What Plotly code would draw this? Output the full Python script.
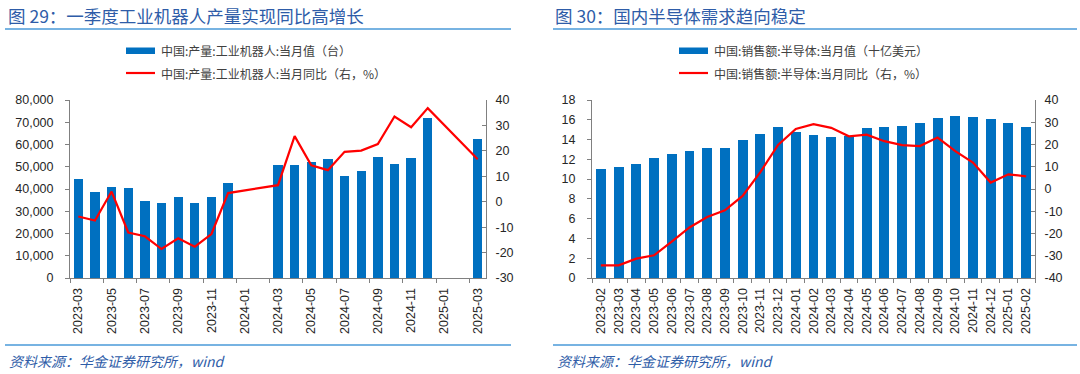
import plotly.graph_objects as go

# ---------------- data ----------------
robot_months = ["2023-03", "2023-04", "2023-05", "2023-06", "2023-07", "2023-08", "2023-09",
                "2023-10", "2023-11", "2023-12", "2024-01", "2024-02", "2024-03", "2024-04",
                "2024-05", "2024-06", "2024-07", "2024-08", "2024-09", "2024-10", "2024-11",
                "2024-12", "2025-01", "2025-02", "2025-03"]
robot_output = [44400, 38600, 40700, 40400, 34800, 33600, 36600, 33500, 36600, 42500,
                None, None, 51000, 50700, 52000, 53500, 45900, 48300, 54500, 51300, 54100,
                72000, None, None, 62300]
robot_yoy = [-5.8, -7.4, 4.0, -12.1, -13.6, -18.6, -14.4, -17.7, -12.7, 3.4,
             None, None, 6.5, 25.8, 14.3, 12.4, 19.6, 20.1, 22.7, 33.5, 29.3,
             36.8, None, None, 16.7]

semi_months = ["2023-02", "2023-03", "2023-04", "2023-05", "2023-06", "2023-07", "2023-08",
               "2023-09", "2023-10", "2023-11", "2023-12", "2024-01", "2024-02", "2024-03",
               "2024-04", "2024-05", "2024-06", "2024-07", "2024-08", "2024-09", "2024-10",
               "2024-11", "2024-12", "2025-01", "2025-02"]
semi_sales = [11.07, 11.2, 11.57, 12.15, 12.55, 12.85, 13.12, 13.19, 14.0, 14.6, 15.3,
              14.77, 14.43, 14.3, 14.4, 15.14, 15.28, 15.38, 15.65, 16.22, 16.39, 16.32,
              16.08, 15.71, 15.24]
semi_yoy = [-34.3, -34.3, -31.3, -29.8, -23.6, -17.3, -12.6, -9.6, -3.1, 7.6, 19.8,
            27.0, 29.1, 27.5, 23.7, 24.4, 21.5, 19.7, 19.3, 23.1, 17.0, 11.9, 2.9, 6.6, 5.7]

# right-axis tick values (labels use a plain hyphen as in the source)
robot_yoy_ticks = [-30, -20, -10, 0, 10, 20, 30, 40]
semi_yoy_ticks = [-40, -30, -20, -10, 0, 10, 20, 30, 40]

title_left = "图 29：一季度工业机器人产量实现同比高增长"
title_right = "图 30：国内半导体需求趋向稳定"
legend_left = ["中国:产量:工业机器人:当月值（台）", "中国:产量:工业机器人:当月同比（右，%）"]
legend_right = ["中国:销售额:半导体:当月值（十亿美元）", "中国:销售额:半导体:当月同比（右，%）"]
source_text = "资料来源：华金证券研究所，wind"

# ---------------- style ----------------
W, H = 1080, 374
BLUE = "#0070C0"
RED = "#FF0000"
AXIS = "#808080"
TICKC = "#262626"
TITLEC = "#2E5CA8"
LINEC = "#4A9AD8"
CJK = "Noto Sans CJK SC"
LAT = "Liberation Sans, Arial"


def px_x(x):
    return x / W


def px_y(y):
    return 1 - y / H


y_dom = [px_y(278), px_y(100)]
left_dom = [px_x(70), px_x(486)]
right_dom = [px_x(592), px_x(1035)]

fig = go.Figure()

fig.add_trace(go.Bar(x=robot_months, y=robot_output, marker=dict(color=BLUE, line=dict(width=0)),
                     width=0.56, xaxis="x", yaxis="y", showlegend=False,
                     name=legend_left[0]))
fig.add_trace(go.Scatter(x=robot_months, y=robot_yoy, mode="lines", connectgaps=True,
                         line=dict(color=RED, width=2.2), xaxis="x", yaxis="y2",
                         showlegend=False, name=legend_left[1]))
fig.add_trace(go.Bar(x=semi_months, y=semi_sales, marker=dict(color=BLUE, line=dict(width=0)),
                     width=0.56, xaxis="x2", yaxis="y3", showlegend=False,
                     name=legend_right[0]))
fig.add_trace(go.Scatter(x=semi_months, y=semi_yoy, mode="lines", connectgaps=True,
                         line=dict(color=RED, width=2.2), xaxis="x2", yaxis="y4",
                         showlegend=False, name=legend_right[1]))

tickfont = dict(family=LAT, size=12.5, color=TICKC)

common_x = dict(type="category", showline=True, linecolor=AXIS, linewidth=1,
                ticks="outside", ticklen=4, tickcolor=AXIS, tickson="boundaries",
                tickangle=-90, tickfont=tickfont, showgrid=False, zeroline=False,
                fixedrange=True, automargin=False, ticklabelstandoff=4)
common_y = dict(showline=True, linecolor=AXIS, linewidth=1, tickcolor=AXIS,
                tickfont=tickfont, showgrid=False, zeroline=False, ticklen=4,
                automargin=False, fixedrange=True)

fig.update_layout(
    width=W, height=H,
    margin=dict(l=0, r=0, t=0, b=0, autoexpand=False),
    paper_bgcolor="white", plot_bgcolor="white",
    bargap=0,
    xaxis=dict(domain=left_dom, anchor="y", categoryorder="array",
               categoryarray=robot_months, dtick=2, **common_x),
    yaxis=dict(domain=y_dom, anchor="x", range=[0, 80000], dtick=10000,
               tickformat=",d", ticks="outside", ticklabelstandoff=9, **common_y),
    yaxis2=dict(overlaying="y", side="right", anchor="x", range=[-30, 40],
                tickvals=robot_yoy_ticks, ticktext=[str(v) for v in robot_yoy_ticks],
                ticks="inside", ticklabelstandoff=6, **common_y),
    xaxis2=dict(domain=right_dom, anchor="y3", categoryorder="array",
                categoryarray=semi_months, dtick=1, **common_x),
    yaxis3=dict(domain=y_dom, anchor="x2", range=[0, 18], dtick=2,
                ticks="outside", ticklabelstandoff=9, **common_y),
    yaxis4=dict(overlaying="y3", side="right", anchor="x2", range=[-40, 40],
                tickvals=semi_yoy_ticks, ticktext=[str(v) for v in semi_yoy_ticks],
                ticks="inside", ticklabelstandoff=6, **common_y),
)

annotations = []
shapes = []

# titles
for x0, text in [(6, title_left), (553, title_right)]:
    annotations.append(dict(x=px_x(x0), y=px_y(15), xref="paper", yref="paper",
                            xanchor="left", yanchor="middle", showarrow=False,
                            text=text, font=dict(family=CJK, size=17.5, color=TITLEC)))
# separator lines
for x0, x1 in [(5, 511), (553, 1077)]:
    for yy in (29, 345):
        shapes.append(dict(type="line", xref="paper", yref="paper",
                           x0=px_x(x0), x1=px_x(x1), y0=px_y(yy), y1=px_y(yy),
                           line=dict(color=LINEC, width=1.5)))
# sources
for x0 in (7, 555):
    annotations.append(dict(x=px_x(x0), y=px_y(361), xref="paper", yref="paper",
                            xanchor="left", yanchor="middle", showarrow=False,
                            text="<i>" + source_text + "</i>",
                            font=dict(family=CJK, size=14, color="#2F5DA8")))
# legends
for lx, labels in [(126, legend_left), (679, legend_right)]:
    shapes.append(dict(type="rect", xref="paper", yref="paper",
                       x0=px_x(lx), x1=px_x(lx + 29), y0=px_y(54), y1=px_y(47.5),
                       fillcolor=BLUE, line=dict(width=0)))
    shapes.append(dict(type="line", xref="paper", yref="paper",
                       x0=px_x(lx), x1=px_x(lx + 29), y0=px_y(73), y1=px_y(73),
                       line=dict(color=RED, width=2.2)))
    for yy, lab in zip((51, 73), labels):
        annotations.append(dict(x=px_x(lx + 33), y=px_y(yy), xref="paper", yref="paper",
                                xanchor="left", yanchor="middle", showarrow=False,
                                text=lab, font=dict(family=CJK, size=12, color="#404040")))

fig.update_layout(annotations=annotations, shapes=shapes)

fig.write_html("out.html", config={"displayModeBar": False, "staticPlot": True},
               post_script="document.body.style.margin='0';document.body.style.overflow='hidden';")
